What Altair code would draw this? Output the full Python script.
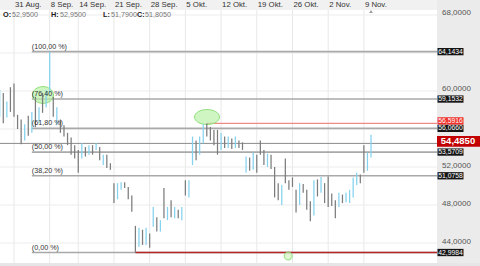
import altair as alt
import pandas as pd

# ---------------- data ----------------
# bar position in trading days (0 = 31 Aug), two bars per day
bar_pos = [-2.0, -1.5, -1.0, -0.5, 0.0, 0.5, 1.0, 1.5, 2.0, 2.5, 3.0, 3.5, 4.0, 4.5, 5.0, 5.5,
           6.0, 6.5, 7.0, 7.5, 8.0, 8.5, 9.0, 9.5, 10.0, 10.5, 11.0, 11.5, 12.0, 12.5, 13.0, 13.5,
           14.0, 14.5, 15.0, 15.5, 16.0, 16.5, 17.0, 17.5, 18.0, 18.5, 19.0, 19.5, 20.0, 20.5,
           21.0, 21.5, 22.0, 22.5, 23.0, 23.5, 24.0, 24.5, 25.0, 25.5, 26.0, 26.5, 27.0, 27.5,
           28.0, 28.5, 29.0, 29.5, 30.0, 30.5, 31.0, 31.5, 32.0, 32.5, 33.0, 33.5, 34.0, 34.5,
           35.0, 35.5, 36.0, 36.5, 37.0, 37.5, 38.0, 38.5, 39.0, 39.5, 40.0, 40.5, 41.0, 41.5,
           42.0, 42.5, 43.0, 43.5, 44.0, 44.5, 45.0, 45.5, 46.0, 46.5, 47.0, 47.5, 48.0, 48.5,
           49.0, 49.5, 50.0]
opens = [58.0, 59.5, 57.2, 60.2, 60.6, 57.5, 56.8, 55.0, 56.2, 55.6, 59.2, 56.6, 59.6, 58.3, 59.8, 59.2,
         57.0, 57.0, 56.3, 55.6, 55.0, 53.8, 53.6, 52.9, 54.0, 53.4, 54.0, 53.8, 54.1, 52.4, 53.2, 52.3,
         50.2, 48.6, 50.0, 50.3, 49.9, 48.9, 45.6, 44.0, 45.2, 44.0, 45.0, 45.9, 46.6, 45.6,
         49.5, 47.0, 48.3, 46.9, 47.3, 47.0, 50.4, 49.0, 52.5, 54.6, 53.4, 55.0, 56.2, 55.5,
         55.6, 55.6, 53.8, 55.0, 54.3, 54.8, 54.2, 54.8, 54.4, 51.8, 52.8, 52.0, 53.0, 54.5,
         53.6, 52.6, 53.1, 52.0, 49.5, 48.8, 52.6, 50.2, 50.8, 49.6, 48.0, 49.8, 49.5, 48.0,
         47.0, 50.2, 49.4, 50.3, 50.9, 48.2, 48.3, 47.8, 49.0, 48.5, 49.0, 49.0, 50.5, 50.8,
         54.0, 51.8, 53.3]
highs = [60.1, 59.8, 58.9, 60.4, 60.8, 57.5, 57.0, 56.5, 57.4, 57.8, 59.4, 58.3, 59.8, 60.1, 64.1434, 59.4,
         58.3, 57.0, 56.4, 55.6, 55.1, 54.3, 53.8, 54.5, 54.1, 54.3, 54.3, 54.5, 54.1, 53.3, 53.3, 52.4,
         50.3, 50.3, 50.4, 50.4, 49.9, 49.0, 45.8, 45.6, 45.4, 45.6, 45.0, 47.8, 46.7, 46.4,
         49.8, 47.8, 48.5, 47.8, 47.5, 47.8, 50.6, 50.6, 55.2, 54.8, 55.2, 56.5, 56.5916, 56.2,
         55.9, 55.9, 55.6, 55.2, 55.2, 55.0, 55.2, 54.8, 54.6, 53.1, 53.0, 53.5, 53.3, 54.8,
         53.8, 53.4, 53.3, 52.0, 50.3, 50.1, 52.9, 50.6, 50.9, 49.6, 50.3, 50.2, 49.6, 48.4,
         50.6, 50.7, 50.95, 50.3, 51.0, 49.2, 48.5, 49.3, 49.1, 49.3, 49.6, 50.9, 51.4, 51.2,
         54.3, 53.5, 55.4]
lows = [57.3, 56.6, 57.2, 57.8, 57.3, 56.0, 54.4, 54.8, 55.3, 55.6, 56.2, 56.6, 57.7, 58.3, 59.8, 57.3,
        56.4, 55.6, 55.2, 54.3, 53.3, 52.9, 51.4, 52.9, 53.1, 53.3, 53.3, 53.8, 52.7, 52.2, 51.9, 51.7,
        48.2, 48.6, 49.6, 49.8, 48.6, 47.3, 42.9984, 43.6, 43.8, 43.8, 43.5, 45.7, 45.2, 45.2,
        46.6, 46.4, 46.7, 46.6, 46.6, 46.4, 49.0, 48.8, 52.2, 52.7, 53.3, 54.5, 55.2, 54.8,
        54.3, 53.3, 53.8, 54.0, 54.0, 53.9, 54.0, 54.0, 53.8, 51.4, 51.6, 51.7, 51.4, 53.3,
        52.2, 52.0, 51.8, 48.8, 48.5, 48.0, 50.3, 49.6, 49.9, 47.2, 48.0, 49.3, 47.5, 46.3,
        46.9, 48.9, 49.3, 48.2, 47.8, 47.9, 46.6, 47.8, 48.2, 48.3, 48.2, 48.8, 50.1, 50.3,
        51.4, 51.6, 53.0]
closes = [59.5, 57.0, 58.6, 58.0, 57.6, 56.3, 55.0, 56.2, 55.6, 57.5, 56.6, 58.0, 58.0, 59.8, 60.6, 57.8,
          57.8, 56.0, 55.6, 54.6, 53.8, 53.2, 51.6, 54.2, 53.4, 54.0, 53.6, 54.3, 53.0, 52.9, 52.5, 51.9,
          48.6, 50.0, 50.2, 50.0, 48.9, 47.5, 44.0, 45.2, 44.0, 45.0, 43.8, 47.2, 45.6, 46.0,
          47.2, 47.5, 46.9, 47.3, 47.0, 47.5, 49.3, 50.3, 54.8, 53.0, 55.0, 56.2, 55.5, 55.3,
          54.5, 53.6, 55.0, 54.3, 54.8, 54.2, 54.8, 54.2, 53.9, 52.8, 52.0, 53.0, 51.8, 53.6,
          52.6, 53.1, 52.2, 49.5, 49.0, 49.6, 50.6, 50.0, 50.0, 47.8, 49.8, 49.6, 48.0, 46.8,
          50.2, 49.4, 50.6, 48.7, 48.2, 48.0, 46.9, 49.0, 48.5, 49.0, 49.3, 50.5, 50.8, 50.6,
          51.8, 53.3, 54.485]

date_pos = [0, 5, 9, 14, 19, 24, 29, 34, 39, 44, 49]
date_labels = ["31 Aug.", "8 Sep.", "14 Sep.", "21 Sep.", "28 Sep.", "5 Okt.", "12 Okt.",
               "19 Okt.", "26 Okt.", "2 Nov.", "9 Nov."]

grid_ticks = [44, 48, 52, 56, 60, 64, 68]
# visible axis labels (64 and 56 lie under the level boxes)
y_ticks = [44, 48, 52, 60, 68]
y_tick_labels = ["44,0000", "48,0000", "52,0000", "60,0000", "68,0000"]

fib_values = [64.1434, 59.1532, 56.0660, 53.5709, 51.0758, 42.9984]
fib_pcts = ["(100,00 %)", "(76,40 %)", "(61,80 %)", "(50,00 %)", "(38,20 %)", "(0,00 %)"]
fib_value_labels = ["64,1434", "59,1532", "56,0660", "53,5709", "51,0758", "42,9984"]
fib_start = 2.5

resist_value, resist_label, resist_start = 56.5916, "56,5916", 27.0
support_value, support_start = 42.9984, 17.0
last_price, last_label = 54.485, "54,4850"

ohlc_keys = ["O:", "H:", "L:", "C:"]
ohlc_vals = ["52,9500", "52,9500", "51,7900", "51,8050"]

event_pos = [50.0]

ellipse_pos = [4.06, 27.03]
ellipse_val = [59.58, 57.26]
ring_pos, ring_val = 38.4, 42.63

# ---------------- layout ----------------
W, H = 437, 253
xs = alt.Scale(domain=[-1.96, 59.24], nice=False, zero=False)
ys = alt.Scale(domain=[41.895, 68.526], nice=False, zero=False)
FONT = "Liberation Sans"
BLUE, GRAY = "#84d2ee", "#7c7c7c"


def X(f="d"):
    return alt.X(f"{f}:Q", scale=xs, axis=None)


def Y(f="v"):
    return alt.Y(f"{f}:Q", scale=ys, axis=None)


one = pd.DataFrame({"a": [0]})

bars_df = pd.DataFrame({"d": bar_pos, "o": opens, "h": highs, "l": lows, "c": closes})
bars_df["dir"] = ["up" if c >= o else "down" for o, c in zip(opens, closes)]
dates_df = pd.DataFrame({"d": date_pos, "label": date_labels})
grid_df = pd.DataFrame({"v": grid_ticks})
ticks_df = pd.DataFrame({"v": y_ticks, "label": y_tick_labels})
fib_df = pd.DataFrame({"v": fib_values, "pct": fib_pcts, "label": fib_value_labels,
                       "start": [fib_start] * len(fib_values)})
res_df = pd.DataFrame({"v": [resist_value], "start": [resist_start], "label": [resist_label]})
sup_df = pd.DataFrame({"v": [support_value], "start": [support_start]})
last_df = pd.DataFrame({"v": [last_price], "label": [last_label]})
ohlc_df = pd.DataFrame({"px": [3, 51, 103, 137], "k": ohlc_keys, "val": ohlc_vals})
ohlc_df["vx"] = ohlc_df["px"] + [9, 9, 8, 8]
event_df = pd.DataFrame({"d": event_pos})
ell_df = pd.DataFrame({"d": ellipse_pos, "v": ellipse_val})
ring_df = pd.DataFrame({"d": [ring_pos], "v": [ring_val]})

header_bg = alt.Chart(one).mark_rect(color="#f1f1f1").encode(
    x=alt.value(0), x2=alt.value(480), y=alt.value(-10), y2=alt.value(0))
right_bg = alt.Chart(one).mark_rect(color="#ebebeb").encode(
    x=alt.value(W), x2=alt.value(480), y=alt.value(-10), y2=alt.value(H + 3))
bottom_bg = alt.Chart(one).mark_rect(color="#e6e6e6").encode(
    x=alt.value(0), x2=alt.value(480), y=alt.value(H), y2=alt.value(H + 3))

vgrid = alt.Chart(dates_df).mark_rule(color="#e8e8e8", strokeWidth=1).encode(
    x=X(), y=alt.value(0), y2=alt.value(H))
hgrid = alt.Chart(grid_df).mark_rule(color="#ececec", strokeWidth=1).encode(
    y=Y(), x=alt.value(0), x2=alt.value(W))
date_text = alt.Chart(dates_df).mark_text(
    align="left", baseline="middle", dx=1, fontSize=7.8, font=FONT, color="#333").encode(
    x=X(), y=alt.value(-5), text="label:N")

last_line = alt.Chart(last_df).mark_rule(color="#8a8a8a", strokeWidth=1).encode(
    y=Y(), x=alt.value(0), x2=alt.value(W))
fib_lines = alt.Chart(fib_df).mark_rule(color="#a9a9a9", strokeWidth=1.6).encode(
    x=X("start"), x2=alt.value(W), y=Y())
res_line = alt.Chart(res_df).mark_rule(color="#f08a84", strokeWidth=1.2).encode(
    x=X("start"), x2=alt.value(W), y=Y())
sup_line = alt.Chart(sup_df).mark_rule(color="#b3262a", strokeWidth=1.5).encode(
    x=X("start"), x2=alt.value(W), y=Y())

bars = alt.Chart(bars_df).mark_rule(strokeWidth=1.25).encode(
    x=X(), y=Y("l"), y2="h:Q",
    color=alt.Color("dir:N", scale=alt.Scale(domain=["up", "down"], range=[BLUE, GRAY]), legend=None))

ELL1 = "M-1,0A1,0.8 0 1,0 1,0A1,0.8 0 1,0 -1,0Z"
ELL2 = "M-1,0A1,0.6 0 1,0 1,0A1,0.6 0 1,0 -1,0Z"
CIRC = "M-1,0A1,1 0 1,0 1,0A1,1 0 1,0 -1,0Z"
ell1 = alt.Chart(ell_df.iloc[[0]]).mark_point(
    shape=ELL1, size=441, filled=True, fill="#b4f0a2", fillOpacity=0.65,
    stroke="#90e07c", strokeWidth=1, opacity=1).encode(x=X(), y=Y())
ell2 = alt.Chart(ell_df.iloc[[1]]).mark_point(
    shape=ELL2, size=625, filled=True, fill="#b4f0a2", fillOpacity=0.65,
    stroke="#90e07c", strokeWidth=1, opacity=1).encode(x=X(), y=Y())
ring = alt.Chart(ring_df).mark_point(
    shape=CIRC, size=64, filled=True, fill="#c8f4b8", fillOpacity=0.6,
    stroke="#8ede78", strokeWidth=1, opacity=1).encode(x=X(), y=Y())

fib_text = alt.Chart(fib_df).mark_text(
    align="left", baseline="bottom", dy=-1, fontSize=7.2, font=FONT, color="#333").encode(
    x=X("start"), y=Y(), text="pct:N")

axis_text = alt.Chart(ticks_df).mark_text(
    align="left", baseline="middle", dx=5, dy=-1.5, fontSize=8, font=FONT, color="#555").encode(
    x=alt.value(W), y=Y(), text="label:N")

BOX = "M-1,-0.28L1,-0.28L1,0.28L-1,0.28Z"
fib_box = alt.Chart(fib_df).mark_point(
    shape=BOX, size=676, filled=True, color="#151515", opacity=1).encode(
    x=alt.value(W + 13.5), y=Y())
fib_box_text = alt.Chart(fib_df).mark_text(
    align="center", baseline="middle", fontSize=6.8, font=FONT, color="white").encode(
    x=alt.value(W + 13.5), y=Y(), text="label:N")
res_box = alt.Chart(res_df).mark_point(
    shape=BOX, size=676, filled=True, color="#f0302a", opacity=1, yOffset=-2.5).encode(
    x=alt.value(W + 13.5), y=Y())
res_box_text = alt.Chart(res_df).mark_text(
    align="center", baseline="middle", dy=-2.5, fontSize=6.8, font=FONT, color="white").encode(
    x=alt.value(W + 13.5), y=Y(), text="label:N")

BIG = "M-1,-0.25L1,-0.25L1,0.25L-1,0.25Z"
last_box = alt.Chart(last_df).mark_point(
    shape=BIG, size=1849, filled=True, color="#c20000", opacity=1, yOffset=-2).encode(
    x=alt.value(W + 21.5), y=Y())
last_text = alt.Chart(last_df).mark_text(
    align="center", baseline="middle", dy=-2, fontSize=9.5, fontWeight="bold", font=FONT,
    color="white").encode(x=alt.value(W + 21), y=Y(), text="label:N")

ohlc_k = alt.Chart(ohlc_df).mark_text(
    align="left", baseline="middle", fontSize=7.3, fontWeight="bold", font=FONT, color="#222").encode(
    x=alt.X("px:Q", scale=None), y=alt.value(5), text="k:N")
ohlc_v = alt.Chart(ohlc_df).mark_text(
    align="left", baseline="middle", fontSize=7.2, font=FONT, color="#777").encode(
    x=alt.X("vx:Q", scale=None), y=alt.value(5), text="val:N")

event = alt.Chart(event_df).mark_point(
    shape="triangle-up", size=14, filled=True, color="#9a9a9a", opacity=1).encode(
    x=X(), y=alt.value(1.5))

chart = alt.layer(
    header_bg, right_bg, bottom_bg, vgrid, hgrid, date_text,
    fib_lines, sup_line, res_line, last_line,
    ell1, ell2, ring, bars, fib_text,
    axis_text, fib_box, fib_box_text, res_box, res_box_text, last_box, last_text,
    ohlc_k, ohlc_v, event,
).properties(
    width=W, height=H,
    autosize=alt.AutoSizeParams(type="none"),
    padding={"left": 0, "top": 10, "right": 43, "bottom": 3},
    background="white",
).configure_view(stroke=None)

chart.save("out.html", embed_options={"renderer": "svg", "actions": False})
